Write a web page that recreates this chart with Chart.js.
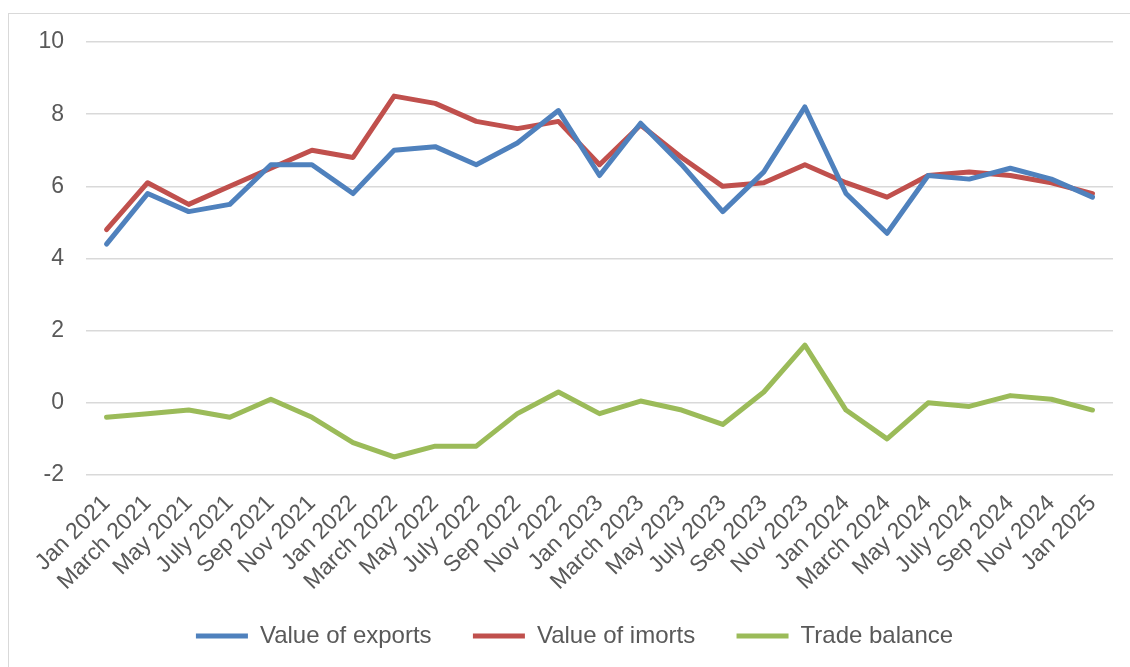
<!DOCTYPE html>
<html>
<head>
<meta charset="utf-8">
<script src="https://cdn.jsdelivr.net/npm/chart.js@4.4.1/dist/chart.umd.min.js"></script>
<style>
    html, body {
        margin: 0;
        padding: 0;
        background: #ffffff;
        overflow: hidden;
        width: 1130px;
        height: 667px;
    }
    /* Cadre gris clair autour du graphique */
    .frame {
        position: absolute;
        left: 8px;
        top: 13px;
        width: 1140px;
        height: 700px;
        border: 1px solid #d9d9d9;
        box-sizing: border-box;
    }
    .chart-box {
        position: absolute;
        left: 0;
        top: 0;
        width: 1130px;
        height: 667px;
    }
</style>
</head>
<body>
<div class="frame"></div>
<div class="chart-box"><canvas id="chart-trade"></canvas></div>
<script>
// Données mensuelles (tous les deux mois)
const months = [
    'Jan 2021', 'March 2021', 'May 2021', 'July 2021', 'Sep 2021', 'Nov 2021',
    'Jan 2022', 'March 2022', 'May 2022', 'July 2022', 'Sep 2022', 'Nov 2022',
    'Jan 2023', 'March 2023', 'May 2023', 'July 2023', 'Sep 2023', 'Nov 2023',
    'Jan 2024', 'March 2024', 'May 2024', 'July 2024', 'Sep 2024', 'Nov 2024',
    'Jan 2025'
];

const exportsValues = [
    4.4, 5.8, 5.3, 5.5, 6.6, 6.6,
    5.8, 7.0, 7.1, 6.6, 7.2, 8.1,
    6.3, 7.75, 6.6, 5.3, 6.4, 8.2,
    5.8, 4.7, 6.3, 6.2, 6.5, 6.2,
    5.7
];

const importsValues = [
    4.8, 6.1, 5.5, 6.0, 6.5, 7.0,
    6.8, 8.5, 8.3, 7.8, 7.6, 7.8,
    6.6, 7.7, 6.8, 6.0, 6.1, 6.6,
    6.1, 5.7, 6.3, 6.4, 6.3, 6.1,
    5.8
];

const balanceValues = [
    -0.4, -0.3, -0.2, -0.4, 0.1, -0.4,
    -1.1, -1.5, -1.2, -1.2, -0.3, 0.3,
    -0.3, 0.05, -0.2, -0.6, 0.3, 1.6,
    -0.2, -1.0, 0.0, -0.1, 0.2, 0.1,
    -0.2
];

const yTicks = [-2, 0, 2, 4, 6, 8, 10];

const FONT = "'Liberation Sans', Arial, sans-serif";
const TEXT_COLOR = '#595959';

function makeDataset(label, data, color) {
    return {
        label: label,
        data: data,
        borderColor: color,
        backgroundColor: color,
        borderWidth: 5,
        borderCapStyle: 'round',
        borderJoinStyle: 'round',
        pointRadius: 0,
        pointHoverRadius: 0,
        tension: 0,
        fill: false
    };
}

const ctx = document.getElementById('chart-trade').getContext('2d');

const chart = new Chart(ctx, {
    type: 'line',
    data: {
        labels: months,
        datasets: [
            makeDataset('Value of exports', exportsValues, '#4f81bd'),
            makeDataset('Value of imorts', importsValues, '#c0504d'),
            makeDataset('Trade balance', balanceValues, '#9bbb59')
        ]
    },
    options: {
        responsive: true,
        maintainAspectRatio: false,
        animation: false,
        layout: {
            padding: { left: 36, right: 17, top: 42, bottom: 9 }
        },
        plugins: {
            tooltip: { enabled: false },
            legend: {
                position: 'bottom',
                labels: {
                    usePointStyle: true,
                    pointStyle: 'line',
                    pointStyleWidth: 52,
                    padding: 28,
                    color: TEXT_COLOR,
                    font: { family: FONT, size: 24 },
                    // Un peu plus d'espace entre les entrées de la légende
                    generateLabels: c => {
                        const items = Chart.defaults.plugins.legend.labels.generateLabels(c);
                        items.forEach((item, i) => {
                            if (i < items.length - 1) item.text += '  ';
                        });
                        return items;
                    }
                }
            }
        },
        scales: {
            x: {
                offset: true,
                grid: { display: false },
                border: { display: false },
                ticks: {
                    color: TEXT_COLOR,
                    font: { family: FONT, size: 23 },
                    maxRotation: 45,
                    minRotation: 45,
                    padding: 7,
                    autoSkip: false
                },
                afterFit: scale => { scale.height = 121; }
            },
            y: {
                min: yTicks[0],
                max: yTicks[yTicks.length - 1],
                afterBuildTicks: scale => {
                    scale.ticks = yTicks.map(v => ({ value: v }));
                },
                grid: {
                    color: '#d9d9d9',
                    lineWidth: 1.5,
                    drawTicks: false
                },
                border: { display: false },
                ticks: {
                    color: TEXT_COLOR,
                    font: { family: FONT, size: 23 },
                    padding: 22
                },
                afterFit: scale => { scale.width = 50; }
            }
        }
    }
});
</script>
</body>
</html>
